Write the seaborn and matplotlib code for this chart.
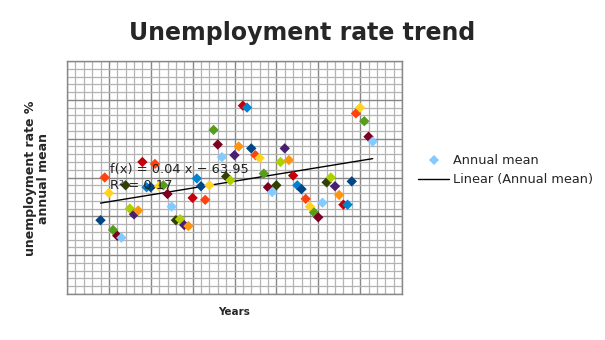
import numpy as np
import pandas as pd
import matplotlib
matplotlib.use("Agg")
import matplotlib.pyplot as plt
from matplotlib.lines import Line2D
import seaborn as sns

# Annual mean unemployment rate (%)
years = list(range(1948, 2014))
rates = [
    3.8, 6.0, 5.2, 3.3, 3.0, 2.9, 5.6, 4.4, 4.1, 4.3,
    6.8, 5.5, 5.5, 6.7, 5.55, 5.6, 5.15, 4.5, 3.8, 3.85,
    3.55, 3.5, 4.95, 5.95, 5.55, 4.85, 5.6, 8.45, 7.7, 7.05,
    6.05, 5.85, 7.15, 7.6, 9.7, 9.6, 7.5, 7.15, 7.0, 6.2,
    5.5, 5.25, 5.6, 6.8, 7.5, 6.9, 6.1, 5.6, 5.4, 4.9,
    4.5, 4.2, 3.95, 4.7, 5.75, 6.0, 5.55, 5.1, 4.6, 4.6,
    5.8, 9.3, 9.6, 8.9, 8.1, 7.85,
]

title = "Unemployment rate trend"
x_label = "Years"
y_label = "unemployment rate %\nannual mean"
series_name = "Annual mean"
trend_name = "Linear (Annual mean)"

# point colours cycle through a 12-colour office palette
palette12 = ["#004586", "#ff420e", "#ffd320", "#579d1c", "#7e0021", "#83caff",
             "#314004", "#aecf00", "#4b1f6f", "#ff950e", "#c5000b", "#0084d1"]

df = pd.DataFrame({"year": years, "rate": rates})
df["key"] = df["year"].astype(str)
pal = {k: palette12[i % 12] for i, k in enumerate(df["key"])}

sns.set_style("white")
plt.rcParams["font.family"] = ["DejaVu Sans"]

fig = plt.figure(figsize=(6.05, 3.4), dpi=100)
ax = fig.add_axes([67 / 605, 1 - 294 / 340, 335 / 605, 233 / 340])

ax.set_xlim(1940, 2020)
ax.set_ylim(0, 12)
ax.set_xticks(np.arange(1940, 2021, 10))
ax.set_xticks(np.arange(1940, 2021, 2), minor=True)
ax.set_yticks(np.arange(0, 12.1, 2))
ax.set_yticks(np.arange(0, 12.01, 0.4), minor=True)
ax.grid(which="minor", color="#b3b3b3", linewidth=0.9)
ax.grid(which="major", color="#878787", linewidth=1.0)
ax.set_axisbelow(True)
ax.tick_params(which="both", length=0, labelbottom=False, labelleft=False)
for s in ax.spines.values():
    s.set_color("#878787")
    s.set_linewidth(1.0)

# linear trend of the annual means
slope, intercept = np.polyfit(df["year"], df["rate"], 1)
pred = slope * df["year"] + intercept
r2 = 1 - ((df["rate"] - pred) ** 2).sum() / ((df["rate"] - df["rate"].mean()) ** 2).sum()

sns.regplot(data=df, x="year", y="rate", scatter=False, ci=None, truncate=True,
            color="black", line_kws={"linewidth": 1.0}, ax=ax)

sns.scatterplot(data=df, x="year", y="rate", hue="key", palette=pal, marker="D",
                s=28, linewidth=0, legend=False, ax=ax, zorder=3)
ax.set_xlabel("")
ax.set_ylabel("")

sign = "−" if intercept < 0 else "+"
ax.text(1950.3, 6.39, f"f(x) = {slope:.2f} x {sign} {abs(intercept):.2f}",
        fontsize=9.4, color="#222222", va="center", ha="left", zorder=4)
ax.text(1950.3, 5.61, f"R² = {r2:.2f}", fontsize=9.4, color="#222222",
        va="center", ha="left", zorder=4)

fig.text(0.5, 1 - 33 / 340, title, ha="center", va="center",
         fontsize=17, fontweight="bold")
fig.text(234.5 / 605, 1 - 312 / 340, x_label, ha="center", va="center",
         fontsize=7.5, fontweight="bold")
fig.text(37 / 605, 1 - 178 / 340, y_label, ha="center", va="center",
         rotation=90, fontsize=9, fontweight="bold", multialignment="center",
         linespacing=1.0)

handles = [
    Line2D([], [], linestyle="none", marker="D", markersize=5,
           markerfacecolor="#83caff", markeredgewidth=0),
    Line2D([], [], color="black", linewidth=1.0),
]
fig.legend(handles, [series_name, trend_name], loc="upper left",
           bbox_to_anchor=(418 / 605, 1 - 154 / 340), frameon=False,
           fontsize=9.25, borderpad=0, borderaxespad=0, handlelength=2.45,
           handletextpad=0.3, labelspacing=0.5)

fig.savefig("out.png", dpi=100)
